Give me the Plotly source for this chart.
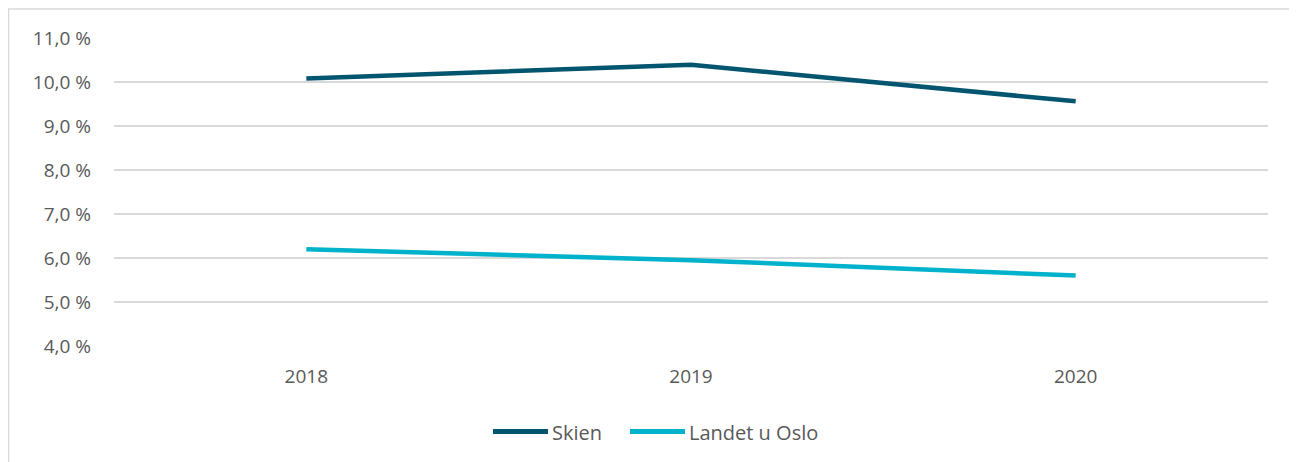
import plotly.graph_objects as go

years = ["2018", "2019", "2020"]
skien = [10.08, 10.39, 9.56]
landet = [6.20, 5.95, 5.60]
series_names = ["Skien", "Landet u Oslo"]
series_colors = ["#02556F", "#00B2CB"]
y_ticks = [4, 5, 6, 7, 8, 9, 10, 11]
y_tick_labels = ["4,0 %", "5,0 %", "6,0 %", "7,0 %", "8,0 %", "9,0 %", "10,0 %", "11,0 %"]

# page has an 8px body margin, so figure coords = screen coords - 8
OFF = 8
W, H = 1297 - OFF, 462 - OFF
L, T = 114 - OFF, 38 - OFF
pw, ph = 1154, 308
R, B = W - L - pw, H - T - ph

def px_x(p):
    return (p - OFF - L) / pw

def px_y(p):
    return (T + ph - (p - OFF)) / ph

FONT = "Open Sans, sans-serif"
TXT = "#595959"

fig = go.Figure()
for name, vals, col in zip(series_names, [skien, landet], series_colors):
    fig.add_trace(go.Scatter(x=years, y=vals, mode="lines", name=name,
                             line=dict(color=col, width=4.5), showlegend=False))

# custom legend (long line symbols like the reference)
legend_line_x = [(493, 548), (630, 685)]
legend_text_x = [550, 687]
legend_y = 431.5
shapes = [dict(type="rect", xref="paper", yref="paper",
               x0=px_x(8.5), x1=px_x(1296), y0=px_y(475), y1=px_y(9),
               line=dict(color="#D9D9D9", width=1.5), fillcolor="rgba(0,0,0,0)",
               layer="below")]
annotations = []
for (x0, x1), tx, name, col in zip(legend_line_x, legend_text_x, series_names, series_colors):
    shapes.append(dict(type="line", xref="paper", yref="paper",
                       x0=px_x(x0), x1=px_x(x1), y0=px_y(legend_y), y1=px_y(legend_y),
                       line=dict(color=col, width=5)))
    annotations.append(dict(xref="paper", yref="paper", x=px_x(tx), y=px_y(legend_y + 1),
                            xanchor="left", yanchor="middle", showarrow=False, text=name,
                            font=dict(family=FONT, size=20, color=TXT)))

fig.update_layout(
    width=W, height=H,
    margin=dict(l=L, r=R, t=T, b=B),
    paper_bgcolor="white", plot_bgcolor="white",
    font=dict(family=FONT, size=19, color=TXT),
    showlegend=False,
    xaxis=dict(type="category", range=[-0.5, 2.5], showgrid=False, zeroline=False,
               showline=False, ticks="", ticklabelstandoff=17,
               tickfont=dict(size=19, color=TXT)),
    yaxis=dict(range=[4, 11], tickvals=y_ticks, ticktext=y_tick_labels,
               showgrid=True, gridcolor="#D9D9D9", gridwidth=1.5, zeroline=False,
               showline=False, ticks="", ticklabelstandoff=22,
               tickfont=dict(size=19, color=TXT)),
    shapes=shapes,
    annotations=annotations,
)

fig.write_html("out.html")
